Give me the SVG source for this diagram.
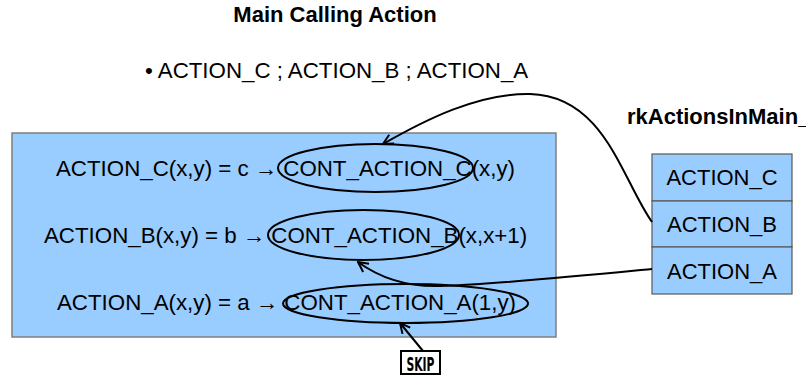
<svg xmlns="http://www.w3.org/2000/svg" width="806" height="378" viewBox="0 0 806 378">
  <style>
    text { font-family: "Liberation Sans", Arial, sans-serif; fill: #000; }
    .title { font-size: 22px; font-weight: bold; }
    .body { font-size: 22.3px; }
    .label { font-size: 22px; }
    .panel { fill: #99ccff; stroke: #7f7f7f; stroke-width: 1.5; }
    .cell { fill: #99ccff; stroke: #595959; stroke-width: 1.2; }
    .ring { fill: none; stroke: #000; stroke-width: 2; }
    .wire { fill: none; stroke: #000; stroke-width: 2; marker-end: url(#openArrow); }
    .tag { fill: #fff; stroke: #000; stroke-width: 2; }
    .tagText { font-family: "DejaVu Sans Condensed", "DejaVu Sans", sans-serif; font-weight: bold; font-size: 19px; }
  </style>
  <defs>
    <marker id="openArrow" viewBox="0 0 12 12" refX="11" refY="6" markerWidth="12" markerHeight="12" markerUnits="userSpaceOnUse" orient="auto">
      <path d="M1,1 L11,6 L1,11" fill="none" stroke="#000" stroke-width="2"/>
    </marker>
  </defs>

  <rect width="806" height="378" fill="#fff"/>

  <!-- headings -->
  <g id="heading">
    <text class="title" x="335" y="22" text-anchor="middle">Main Calling Action</text>
  </g>
  <g id="call-order">
    <text class="body" x="145" y="78">• ACTION_C ; ACTION_B ; ACTION_A</text>
  </g>

  <!-- main action panel -->
  <g id="main-panel">
    <rect class="panel" x="12" y="133" width="544" height="204"/>
    <text class="body" x="56" y="176">ACTION_C(x,y) = c → CONT_ACTION_C(x,y)</text>
    <text class="body" x="44" y="243">ACTION_B(x,y) = b → CONT_ACTION_B(x,x+1)</text>
    <text class="body" x="57" y="310">ACTION_A(x,y) = a → CONT_ACTION_A(1,y)</text>
  </g>

  <!-- highlighted continuations -->
  <g id="cont-c"><ellipse class="ring" cx="375.5" cy="168" rx="97.5" ry="24"/></g>
  <g id="cont-b"><ellipse class="ring" cx="363.5" cy="235" rx="95.5" ry="25"/></g>
  <g id="cont-a"><ellipse class="ring" cx="405.5" cy="303.5" rx="122.5" ry="19.5"/></g>

  <!-- action table -->
  <g id="actions-table">
    <text class="label" x="627" y="124" style="font-weight:bold">rkActionsInMain_</text>
    <rect class="cell" x="652" y="154" width="140" height="47"/>
    <rect class="cell" x="652" y="201" width="140" height="46"/>
    <rect class="cell" x="652" y="247" width="140" height="47"/>
    <text class="label" x="722" y="185" text-anchor="middle">ACTION_C</text>
    <text class="label" x="722" y="232" text-anchor="middle">ACTION_B</text>
    <text class="label" x="722" y="279" text-anchor="middle">ACTION_A</text>
  </g>

  <!-- skip label -->
  <g id="skip">
    <rect class="tag" x="401" y="351" width="39" height="23"/>
    <text class="tagText" x="420.5" y="371" text-anchor="middle" textLength="28" lengthAdjust="spacingAndGlyphs">SKIP</text>
  </g>

  <!-- connectors -->
  <g id="connectors">
    <path class="wire" d="M652,222 C622,180 605,96 530,94 C478,93 425,120 383,144"/>
    <path class="wire" d="M652,269 C580,276 500,284 440,286 C405,287 380,278 358,262"/>
    <path class="wire" d="M423,351 L400,323"/>
  </g>
</svg>
